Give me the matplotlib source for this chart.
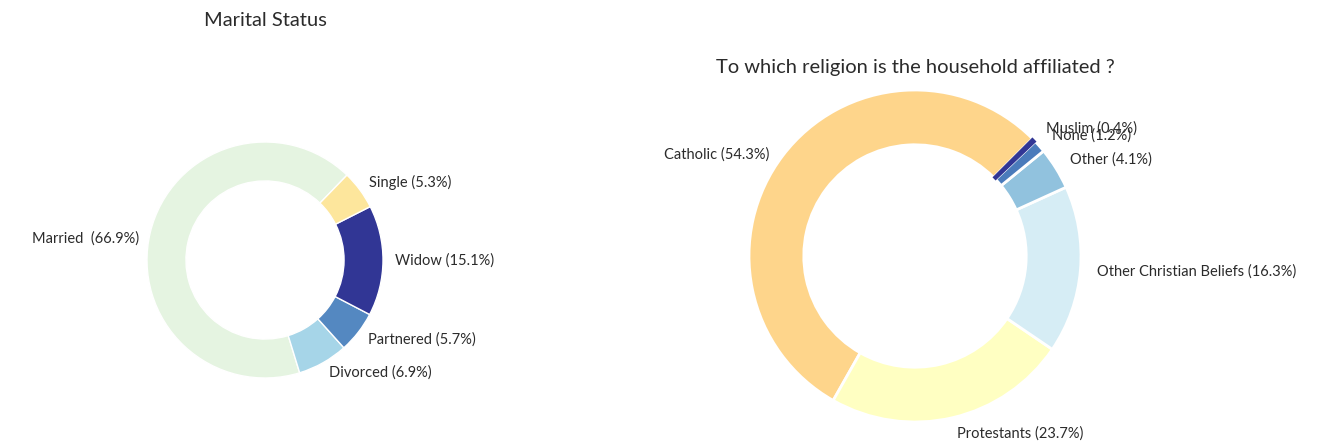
import matplotlib
matplotlib.use("Agg")
import matplotlib.pyplot as plt

plt.rcParams['font.family'] = ['Lato', 'DejaVu Sans']

# Marital status data
marital_labels = ["Married ", "Divorced", "Partnered", "Widow", "Single"]
marital_values = [66.9, 6.9, 5.7, 15.1, 5.3]
marital_colors = ["#e5f4e1", "#a6d5e8", "#5488c1", "#313695", "#fde69c"]

# Religion data
religion_labels = ["Catholic", "Protestants", "Other Christian Beliefs", "Other", "None", "Muslim"]
religion_values = [54.3, 23.7, 16.3, 4.1, 1.2, 0.4]
religion_colors = ["#fed58b", "#ffffc2", "#d6edf5", "#91c2de", "#4a7bbb", "#313695"]
religion_explode = [0, 0, 0, 0, 0, 0.03]

W, H = 1341, 447
fig = plt.figure(figsize=(W / 100, H / 100), dpi=100)
ax = fig.add_axes([0, 0, 1, 1])

txtc = "#2b2b2b"

def lab(names, vals):
    return [f"{n} ({v}%)" for n, v in zip(names, vals)]

cL = (265, H - 260)
cR = (915, H - 256)

_, texts_l = ax.pie(marital_values, labels=lab(marital_labels, marital_values), colors=marital_colors,
                    startangle=46, counterclock=True, center=cL, radius=118,
                    labeldistance=1.1, wedgeprops=dict(width=118 * 0.33, edgecolor="white", linewidth=1),
                    textprops=dict(fontsize=10.5, color=txtc))

wedges_r, texts_r = ax.pie(religion_values, labels=lab(religion_labels, religion_values), colors=religion_colors,
                           explode=religion_explode,
                           startangle=45, counterclock=True, center=cR, radius=166,
                           labeldistance=1.1, wedgeprops=dict(width=166 * 0.33, edgecolor="white", linewidth=2),
                           textprops=dict(fontsize=10.5, color=txtc))
# the tiny slice keeps its own colour as outline so it stays visible
wedges_r[-1].set_edgecolor(religion_colors[-1])
wedges_r[-1].set_linewidth(1.2)
wedges_r[-1].set_zorder(3)

# fix horizontal alignment relative to each pie's own centre
for texts, c in ((texts_l, cL), (texts_r, cR)):
    for t in texts:
        x, y = t.get_position()
        if x < c[0]:
            t.set_ha("right")
            t.set_position((x, y - 9))

ax.set_xlim(0, W)
ax.set_ylim(0, H)
ax.set_aspect("equal")
ax.axis("off")

fig.text(265 / W, 1 - 20 / H, "Marital Status", ha="center", va="center", fontsize=14.5, color=txtc)
fig.text(915 / W, 1 - 68 / H, "To which religion is the household affiliated ?", ha="center",
         va="center", fontsize=14.5, color=txtc)

fig.savefig("out.png", dpi=100, facecolor="white")
